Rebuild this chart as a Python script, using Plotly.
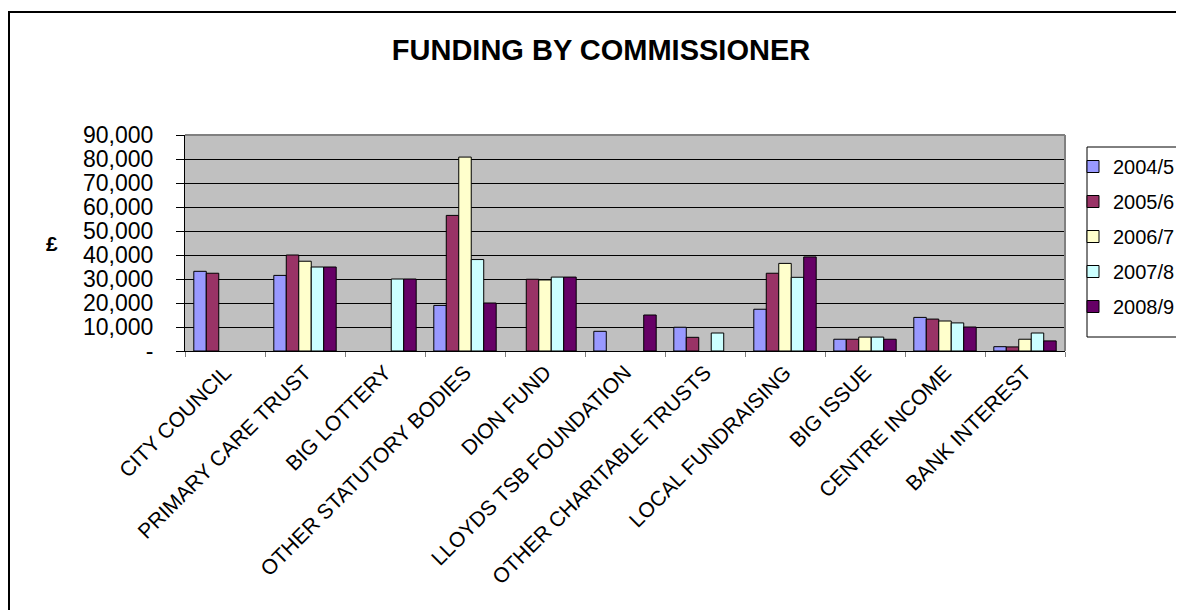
import plotly.graph_objects as go

categories = ["CITY COUNCIL", "PRIMARY CARE TRUST", "BIG LOTTERY", "OTHER STATUTORY BODIES",
              "DION FUND", "LLOYDS TSB FOUNDATION", "OTHER CHARITABLE TRUSTS",
              "LOCAL FUNDRAISING", "BIG ISSUE", "CENTRE INCOME", "BANK INTEREST"]

y2004_5 = [33200, 31500, None, 19000, None, 8200, 9900, 17400, 4900, 14000, 1800]
y2005_6 = [32400, 40000, None, 56500, 29900, None, 5700, 32400, 4900, 13300, 1700]
y2006_7 = [None, 37400, None, 80800, 29600, None, None, 36500, 5800, 12500, 4900]
y2007_8 = [None, 35000, 30000, 38100, 30800, None, 7500, 30700, 5800, 11700, 7500]
y2008_9 = [None, 35000, 30000, 20000, 30800, 15000, None, 39200, 4900, 10000, 4200]

series_names = ["2004/5", "2005/6", "2006/7", "2007/8", "2008/9"]
series_values = [y2004_5, y2005_6, y2006_7, y2007_8, y2008_9]
colors = ["#9999FF", "#993366", "#FFFFCC", "#CCFFFF", "#660066"]

tick_vals = [0, 10000, 20000, 30000, 40000, 50000, 60000, 70000, 80000, 90000]
tick_text = ["-", "10,000", "20,000", "30,000", "40,000", "50,000", "60,000", "70,000", "80,000", "90,000"]

FONT = "Liberation Sans, Arial, sans-serif"

fig = go.Figure()
for name, vals, col in zip(series_names, series_values, colors):
    fig.add_trace(go.Bar(
        x=categories, y=vals, name=name, legendgroup=name,
        marker=dict(color=col, line=dict(color="black", width=1)),
    ))

# page offset (body margin) and plot-area geometry in figure pixels
OFF = 8
W, H = 1184 - OFF, 610 - OFF
L, R, T, B = 185 - OFF, 1065 - OFF, 135 - OFF, 351 - OFF
pw, ph = R - L, B - T

def px_x(x):
    # page pixel -> paper coordinate
    return (x - OFF - L) / pw

def px_y(y):
    return (B - (y - OFF)) / ph

fig.update_layout(
    width=W, height=H,
    margin=dict(l=L, r=W - R, t=T, b=H - B, pad=0, autoexpand=False),
    paper_bgcolor="white",
    plot_bgcolor="#C0C0C0",
    barmode="group",
    bargap=0.22,
    bargroupgap=0,
    font=dict(family=FONT, color="black"),
    showlegend=True,
    legend=dict(
        x=px_x(1073), y=px_y(147), xanchor="left", yanchor="top",
        bgcolor="rgba(0,0,0,0)", borderwidth=0,
        font=dict(size=20, family=FONT), tracegroupgap=6,
    ),
    xaxis=dict(
        type="category", tickangle=-45, tickson="boundaries",
        ticks="outside", ticklen=5, tickcolor="#808080",
        showline=True, linecolor="black", linewidth=1,
        showgrid=False, automargin=False,
        tickfont=dict(size=21, family=FONT),
    ),
    yaxis=dict(
        range=[0, 90000], tickvals=tick_vals, ticktext=tick_text,
        ticks="outside", ticklen=8, tickcolor="black",
        showline=True, linecolor="black", linewidth=1,
        showgrid=True, gridcolor="black", gridwidth=1,
        zeroline=False, automargin=False,
        tickfont=dict(size=23, family=FONT),
        ticklabelstandoff=18,
    ),
    title=dict(
        text="<b>FUNDING BY COMMISSIONER</b>",
        x=px_x(601), xanchor="center", xref="paper",
        y=1 - (50 - OFF) / H, yanchor="middle", yref="container",
        font=dict(size=29, family=FONT, color="black"),
    ),
    annotations=[dict(
        text="<b>£</b>", x=px_x(52), y=px_y(243), xref="paper", yref="paper",
        showarrow=False, font=dict(size=21, family=FONT, color="black"),
        xanchor="center", yanchor="middle",
    )],
    shapes=[
        # outer chart frame
        dict(type="rect", xref="paper", yref="paper",
             x0=px_x(OFF + 1), y0=px_y(660), x1=px_x(1230), y1=px_y(12),
             line=dict(color="black", width=2), fillcolor="rgba(0,0,0,0)", layer="above"),
        # legend box
        dict(type="rect", xref="paper", yref="paper",
             x0=px_x(1087), y0=px_y(337), x1=px_x(1220), y1=px_y(147),
             line=dict(color="black", width=1), fillcolor="rgba(0,0,0,0)", layer="above"),
        # plot-area border (top / right)
        dict(type="line", xref="paper", yref="paper", x0=0, x1=1, y0=1, y1=1,
             line=dict(color="#808080", width=2), layer="above"),
        dict(type="line", xref="paper", yref="paper", x0=1, x1=1, y0=0, y1=1,
             line=dict(color="#808080", width=2), layer="above"),
    ],
)

fig.write_html("out.html")
